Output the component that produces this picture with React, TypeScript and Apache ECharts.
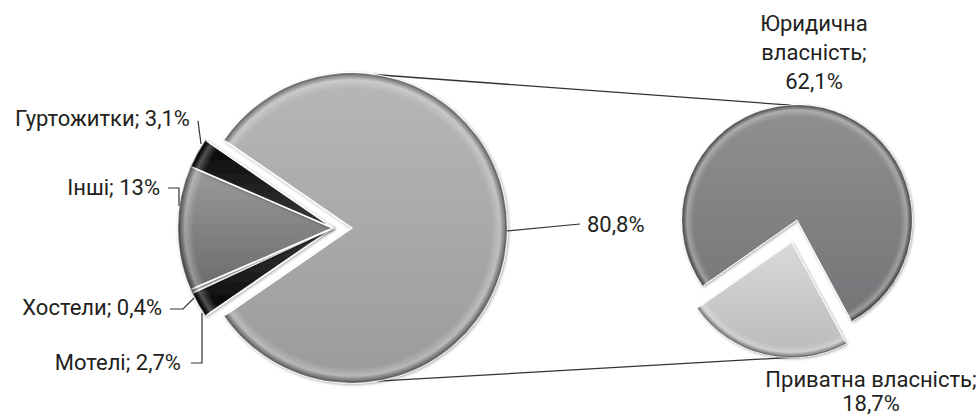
import React, { useEffect, useRef } from "react";
import * as echarts from "echarts";

// ---- data ----
const leftNames = ["Готелі", "Мотелі", "Хостели", "Інші", "Гуртожитки"];
const leftValues = [80.8, 2.7, 0.4, 13, 3.1];
const rightNames = ["Юридична власність", "Приватна власність"];
const rightValues = [62.1, 18.7];

// ---- layout ----
const W = 978;
const H = 417;
const FONT = "Roboto";
const FS = 22;
const TEXT = "#231f20";
const LEFT_C = [333, 228];
const LEFT_R = 155;
const LEFT_OFF = 19;
const RIGHT_C = [797, 220];
const RIGHT_R = 115;
const RIGHT_OFF = 23;
const RIGHT_START = 215;

const leftLabelLayout = [
  { x: 587, y: 224, align: "left", line: [[507, 231], [580, 224]] },
  { x: 181, y: 362, align: "right", line: [[191, 363], [202, 363], [202, 313]] },
  { x: 162, y: 307, align: "right", line: [[170, 309], [183, 309], [194, 298]] },
  { x: 160, y: 187, align: "right", line: [[168, 188], [179, 188], [179, 206]] },
  { x: 190, y: 118, align: "right", line: [[198, 121], [201, 144]] },
];
const rightLabelLayout = [
  { x: 814, y: 52, align: "center", lh: 29 },
  { x: 871, y: 391, align: "center", lh: 24 },
];

const lg = (a: string, b: string) =>
  new echarts.graphic.LinearGradient(0, 0, 0, 1, [
    { offset: 0, color: a },
    { offset: 1, color: b },
  ]);

const leftColors = [
  lg("#b6b7b9", "#9a9b9d"),
  lg("#3a3a3a", "#050505"),
  lg("#d0d0d0", "#a8a8a8"),
  lg("#9a9b9d", "#6a6b6d"),
  lg("#050505", "#3a3a3a"),
];
const rightColors = [lg("#8f9092", "#737476"), lg("#d8d9db", "#b9babc")];

const fmt = (v: number) => String(v).replace(".", ",") + "%";

// rim (bevel) overlay; the gradient is in the sector's local frame (before its explode offset)
const rim = (c: number[], r: number) =>
  new echarts.graphic.RadialGradient(
    c[0],
    c[1],
    r,
    [
      { offset: 0, color: "rgba(255,255,255,0)" },
      { offset: 0.9, color: "rgba(255,255,255,0)" },
      { offset: 0.955, color: "rgba(255,255,255,0.28)" },
      { offset: 0.985, color: "rgba(0,0,0,0.25)" },
      { offset: 1, color: "rgba(0,0,0,0.6)" },
    ],
    true
  );

export default function App() {
  const ref = useRef<HTMLDivElement>(null);
  useEffect(() => {
    document.body.style.margin = "0";
    const chart = echarts.init(ref.current!, undefined, { renderer: "svg" });
    const smallSum = leftValues.slice(1).reduce((a, b) => a + b, 0);
    const total = leftValues.reduce((a, b) => a + b, 0);
    const leftStart = 180 - ((smallSum / total) * 360) / 2;
    const rTotal = rightValues[0] + rightValues[1];

    const deg = Math.PI / 180;
    const pt = (c: number[], r: number, a: number) => [c[0] + r * Math.cos(a * deg), c[1] - r * Math.sin(a * deg)];
    const bigC = [LEFT_C[0] + LEFT_OFF, LEFT_C[1]];
    const privMid = RIGHT_START - (rightValues[0] / rTotal) * 360 - ((rightValues[1] / rTotal) * 360) / 2;
    const privC = pt(RIGHT_C, RIGHT_OFF, privMid);
    const topA = pt(bigC, LEFT_R, 82);
    const topB = pt(RIGHT_C, RIGHT_R, 93);
    const botA = pt(bigC, LEFT_R, 268);
    const botB = pt(privC, RIGHT_R, 270);

    const shadow = {
      shadowBlur: 3,
      shadowColor: "rgba(0,0,0,0.35)",
      shadowOffsetX: 1,
      shadowOffsetY: 1,
    };

    const textStyle = (text: string, align: string, lh = 29) => ({
      text,
      align,
      verticalAlign: "middle",
      fill: TEXT,
      fontFamily: FONT,
      fontSize: FS,
      lineHeight: lh,
    });

    const leftTexts = leftValues.map((v, i) => {
      const l = leftLabelLayout[i];
      const t = i === 0 ? fmt(v) : `${leftNames[i]}; ${fmt(v)}`;
      return { type: "text", x: l.x, y: l.y, z: 10, style: textStyle(t, l.align) };
    });
    const leftLines = leftLabelLayout.map((l) => ({
      type: "polyline",
      z: 9,
      shape: { points: l.line },
      style: { stroke: "#333", lineWidth: 1.2, fill: null },
    }));
    const rightTexts = rightValues.map((v, i) => {
      const l = rightLabelLayout[i];
      const t = i === 0 ? rightNames[i].replace(" ", "\n") + ";\n" + fmt(v) : rightNames[i] + ";\n" + fmt(v);
      return { type: "text", x: l.x, y: l.y, z: 10, style: textStyle(t, l.align, l.lh) };
    });

    const pieBase = {
      type: "pie",
      clockwise: true,
      selectedMode: "multiple",
      avoidLabelOverlap: false,
      emphasis: { disabled: true },
      label: { show: false },
      labelLine: { show: false },
    };

    chart.setOption({
      animation: false,
      backgroundColor: "#ffffff",
      textStyle: { fontFamily: FONT },
      graphic: [
        { type: "line", z: 0, shape: { x1: topA[0], y1: topA[1], x2: topB[0], y2: topB[1] }, style: { stroke: "#333", lineWidth: 1.3 } },
        { type: "line", z: 0, shape: { x1: botA[0], y1: botA[1], x2: botB[0], y2: botB[1] }, style: { stroke: "#333", lineWidth: 1.3 } },
        ...leftLines,
        ...leftTexts,
        ...rightTexts,
      ],
      series: [
        {
          ...pieBase,
          center: LEFT_C,
          radius: LEFT_R,
          startAngle: leftStart,
          selectedOffset: LEFT_OFF,
          data: leftValues.map((v, i) => ({
            name: leftNames[i],
            value: v,
            selected: i === 0,
            itemStyle: { color: leftColors[i], borderColor: "#ffffff", borderWidth: 1.5, ...shadow },
          })),
        },
        {
          ...pieBase,
          silent: true,
          center: LEFT_C,
          radius: LEFT_R,
          startAngle: leftStart,
          selectedOffset: LEFT_OFF,
          data: leftValues.map((v, i) => ({
            name: leftNames[i],
            value: v,
            selected: i === 0,
            itemStyle: { color: rim(LEFT_C, LEFT_R), borderWidth: 0 },
          })),
        },
        {
          ...pieBase,
          center: RIGHT_C,
          radius: RIGHT_R,
          startAngle: RIGHT_START,
          selectedOffset: RIGHT_OFF,
          data: rightValues.map((v, i) => ({
            name: rightNames[i],
            value: v,
            selected: i === 1,
            itemStyle: { color: rightColors[i], borderColor: "#ffffff", borderWidth: 1, ...shadow },
          })),
        },
        {
          ...pieBase,
          silent: true,
          center: RIGHT_C,
          radius: RIGHT_R,
          startAngle: RIGHT_START,
          selectedOffset: RIGHT_OFF,
          data: rightValues.map((v, i) => ({
            name: rightNames[i],
            value: v,
            selected: i === 1,
            itemStyle: { color: rim(RIGHT_C, RIGHT_R), borderWidth: 0 },
          })),
        },
      ],
    });
    return () => chart.dispose();
  }, []);
  return <div ref={ref} style={{ width: W, height: H }} />;
}
